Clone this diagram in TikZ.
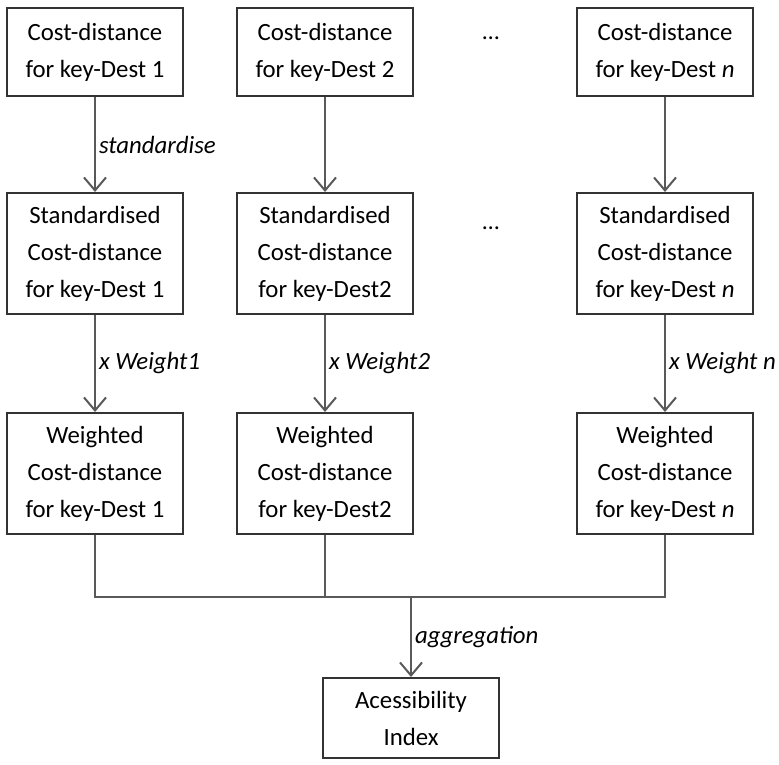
\documentclass[tikz,border=0pt]{standalone}
\usepackage{fontspec}
\setmainfont{Carlito}
\usetikzlibrary{arrows.meta}
\newcommand{\linecol}{black!65}
\tikzset{
  box/.style={draw=black!80, line width=1pt, align=center, minimum width=88pt,
    font=\fontsize{12.4pt}{18.5pt}\selectfont, inner sep=0pt},
  flow/.style={draw=\linecol, line width=1pt, -{Straight Barb[length=6.5pt,width=11pt]}},
  lbl/.style={right, inner sep=1.5pt, font=\fontsize{12.4pt}{14pt}\selectfont\itshape}
}

\begin{document}
\begin{tikzpicture}[x=0.5pt, y=-0.5pt]

    \useasboundingbox (0, 0) rectangle (779, 764);

    % first row
    \node[box, minimum height=44pt] (c1) at (95, 52) {Cost-distance\\for key-Dest 1};
    \node[box, minimum height=44pt] (c2) at (325, 52) {Cost-distance\\for key-Dest 2};
    \node[box, minimum height=44pt] (cn) at (665, 52) {Cost-distance\\for key-Dest \textit{n}};

    % second row
    \node[box, minimum height=60.5pt] (s1) at (95, 253.5) {Standardised\\Cost-distance\\for key-Dest 1};
    \node[box, minimum height=60.5pt] (s2) at (325, 253.5) {Standardised\\Cost-distance\\for key-Dest2};
    \node[box, minimum height=60.5pt] (sn) at (665, 253.5) {Standardised\\Cost-distance\\for key-Dest \textit{n}};

    % third row
    \node[box, minimum height=60.5pt] (w1) at (95, 473.5) {Weighted\\Cost-distance\\for key-Dest 1};
    \node[box, minimum height=60.5pt] (w2) at (325, 473.5) {Weighted\\Cost-distance\\for key-Dest2};
    \node[box, minimum height=60.5pt] (wn) at (665, 473.5) {Weighted\\Cost-distance\\for key-Dest \textit{n}};

    \node[box, minimum height=40pt] (idx) at (411, 718) {Acessibility\\Index};

    % dots between the columns
    \node[font=\fontsize{12pt}{14pt}\selectfont] (d1) at (491, 38) {\dots};
    \node[font=\fontsize{12pt}{14pt}\selectfont] (d2) at (491, 228) {\dots};

    \draw[flow] (c1) -- node[lbl] {standardise} (s1);
    \draw[flow] (c2) -- (s2);
    \draw[flow] (cn) -- (sn);

    \draw[flow] (s1) -- node[lbl] {x Weight1} (w1);
    \draw[flow] (s2) -- node[lbl] {x Weight2} (w2);
    \draw[flow] (sn) -- node[lbl] {x Weight \textit{n}} (wn);

    % aggregation bus
    \coordinate (b1) at (95, 597);
    \coordinate (b2) at (325, 597);
    \coordinate (bn) at (665, 597);
    \coordinate (bi) at (411, 597);
    \draw[draw=\linecol, line width=1pt] (w1) -- (b1) -- (bn) -- (wn);
    \draw[draw=\linecol, line width=1pt] (w2) -- (b2);
    \draw[flow] (bi) -- node[lbl] {aggregation} (idx);

  \end{tikzpicture}
\end{document}
